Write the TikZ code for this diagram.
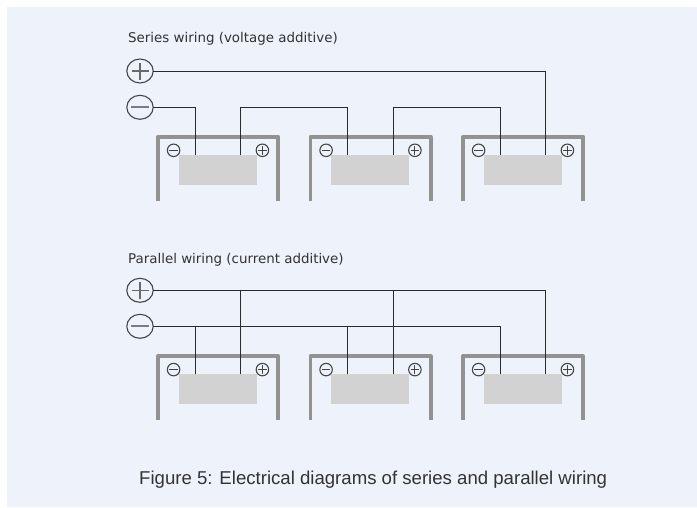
\documentclass[tikz,border=0pt]{standalone}
\usepackage{fontspec}
\setmainfont{Liberation Sans}
\newfontfamily\labfont{DejaVu Sans}
\usetikzlibrary{shapes.geometric}
\definecolor{panelbg}{HTML}{EDF2FB}
\definecolor{barcol}{HTML}{929292}
\definecolor{cellcol}{HTML}{D2D2D2}
\definecolor{wirecol}{HTML}{2A2A2A}
\definecolor{ringcol}{HTML}{444444}
\definecolor{txtcol}{HTML}{333333}
\tikzset{
  x=1pt,y=-1pt,
  panel/.style={fill=panelbg,draw=none},
  cell/.style={fill=cellcol,draw=none,minimum width=78pt,minimum height=30pt,inner sep=0pt,outer sep=0pt},
  casing/.style={draw=barcol,line width=3.6pt,line join=round},
  wire/.style={draw=wirecol,line width=1pt},
  heading/.style={font=\labfont\fontsize{13.4}{16}\selectfont,text=txtcol,anchor=base west,inner sep=0pt},
  caption/.style={font=\fontsize{18.6}{22}\selectfont,text=txtcol,anchor=base west,inner sep=0pt},
  bigring/.style={ellipse,draw=ringcol,line width=1.1pt,minimum width=26.4pt,minimum height=24pt,inner sep=0pt,outer sep=0pt},
  smallring/.style={circle,draw=ringcol,line width=1.1pt,minimum size=12.5pt,inner sep=0pt,outer sep=0pt},
  bigplus/.style={bigring,path picture={\draw[ringcol!80,line width=1.5pt]
    ([xshift=-8.5pt]path picture bounding box.center)--([xshift=8.5pt]path picture bounding box.center)
    ([yshift=-8.5pt]path picture bounding box.center)--([yshift=8.5pt]path picture bounding box.center);}},
  bigminus/.style={bigring,path picture={\draw[ringcol!70,line width=1.8pt]
    ([xshift=-9pt]path picture bounding box.center)--([xshift=9pt]path picture bounding box.center);}},
  smallplus/.style={smallring,path picture={\draw[ringcol,line width=1.1pt]
    ([xshift=-4.2pt]path picture bounding box.center)--([xshift=4.2pt]path picture bounding box.center)
    ([yshift=-4.2pt]path picture bounding box.center)--([yshift=4.2pt]path picture bounding box.center);}},
  smallminus/.style={smallring,path picture={\draw[ringcol,line width=1.1pt]
    ([xshift=-4.2pt]path picture bounding box.center)--([xshift=4.2pt]path picture bounding box.center);}},
}
\begin{document}
\begin{tikzpicture}
\useasboundingbox (0,0) rectangle (697,507);
\fill[panel] (7,7) rectangle (697,507);
\node[heading] (h1) at (128,42) {Series wiring (voltage additive)};
\node[heading] (h2) at (128,263) {Parallel wiring (current additive)};
\node[caption] (cap) at (139,484) {Figure 5: Electrical diagrams of series and parallel wiring};
% batteries
\foreach \r/\dy in {s/0,p/219.3}{
  \foreach \i/\dx in {1/0,2/152.5,3/305}{
    \draw[casing] (157.8+\dx,200.7+\dy) -- (157.8+\dx,136.8+\dy) -- (278.2+\dx,136.8+\dy) -- (278.2+\dx,200.7+\dy);
    \node[cell] (\r\i) at (217.7+\dx,170+\dy) {};
    \node[smallminus] (\r\i m) at (173.6+\dx,150.3+\dy) {};
    \node[smallplus] (\r\i p) at (262.4+\dx,150.3+\dy) {};
    \coordinate (\r\i n) at (195+\dx,155+\dy);
    \coordinate (\r\i c) at (240.7+\dx,155+\dy);
  }
}
% terminals
\node[bigplus] (sP) at (140,71) {};
\node[bigminus] (sM) at (140,107.3) {};
\node[bigplus] (pP) at (140,290.3) {};
\node[bigminus] (pM) at (140,326.3) {};
% series wiring
\draw[wire] (sP.east) -| (s3c);
\draw[wire] (sM.east) -| (s1n);
\coordinate (s12) at (240.7,107.3);
\coordinate (s23) at (393.2,107.3);
\draw[wire] (s1c) -- (s12) -| (s2n);
\draw[wire] (s2c) -- (s23) -| (s3n);
% parallel wiring
\draw[wire] (pP.east) -| (p3c);
\draw[wire] (pM.east) -| (p3n);
\draw[wire] (p1c) -- (p1c |- pP.east);
\draw[wire] (p2c) -- (p2c |- pP.east);
\draw[wire] (p1n) -- (p1n |- pM.east);
\draw[wire] (p2n) -- (p2n |- pM.east);
\end{tikzpicture}
\end{document}
